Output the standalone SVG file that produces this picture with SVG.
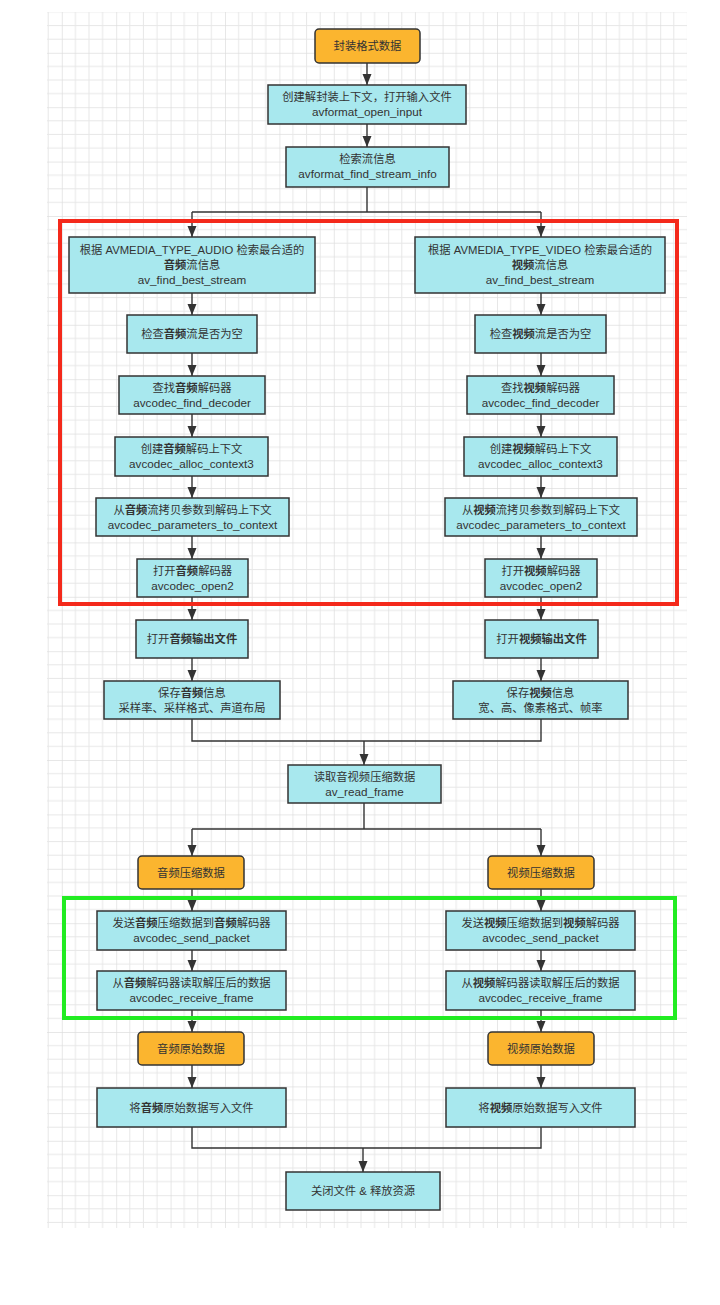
<svg xmlns="http://www.w3.org/2000/svg" width="720" height="1305" viewBox="0 0 720 1305">
<style>
.bg{fill:#ffffff}
.n{fill:#a8e8ee;stroke:#333333;stroke-width:1.5}
.o{fill:#fbb52f;stroke:#333333;stroke-width:1.5}
.t{font-family:"Liberation Sans","Noto Sans CJK SC",sans-serif;font-size:11.3px;fill:#333333;text-anchor:middle}
.f{font-size:11.7px}
.b{font-weight:bold}
.c{fill:none;stroke:#333333;stroke-width:1.4}
.red{fill:none;stroke:#f4291b;stroke-width:4}
.grn{fill:none;stroke:#22ec22;stroke-width:4}
</style>
<defs>
<pattern id="grid" patternUnits="userSpaceOnUse" x="7.4" y="-1.6" width="54.4" height="54.4">
<path d="M0 0V54.4M13.6 0V54.4M27.2 0V54.4M40.8 0V54.4M0 0H54.4M0 13.6H54.4M0 27.2H54.4M0 40.8H54.4" fill="none" stroke="#e7e7e7" stroke-width="1"/>
<path d="M0 0V54.4M0 0H54.4" fill="none" stroke="#dadada" stroke-width="1"/>
</pattern>
<marker id="ar" markerUnits="userSpaceOnUse" markerWidth="11" markerHeight="10" refX="11" refY="4.5" orient="auto">
<path d="M0,0 L11,4.5 L0,9 z" fill="#333333"/>
</marker>
</defs>
<rect class="bg" x="0" y="0" width="720" height="1305"/>
<rect x="47" y="12" width="640" height="1216" fill="url(#grid)"/>

<g id="connectors">
<path class="c" d="M367 63V85" marker-end="url(#ar)"/>
<path class="c" d="M367 124V147" marker-end="url(#ar)"/>
<path class="c" d="M367 187V212"/>
<path class="c" d="M192 212H541"/>
<path class="c" d="M192 212V237" marker-end="url(#ar)"/>
<path class="c" d="M541 212V237" marker-end="url(#ar)"/>
<path class="c" d="M192 293V315" marker-end="url(#ar)"/>
<path class="c" d="M192 353V376" marker-end="url(#ar)"/>
<path class="c" d="M192 414V437" marker-end="url(#ar)"/>
<path class="c" d="M192 476V498" marker-end="url(#ar)"/>
<path class="c" d="M192 536V559" marker-end="url(#ar)"/>
<path class="c" d="M192 597V620" marker-end="url(#ar)"/>
<path class="c" d="M192 658V681" marker-end="url(#ar)"/>
<path class="c" d="M541 293V315" marker-end="url(#ar)"/>
<path class="c" d="M541 353V376" marker-end="url(#ar)"/>
<path class="c" d="M541 414V437" marker-end="url(#ar)"/>
<path class="c" d="M541 476V498" marker-end="url(#ar)"/>
<path class="c" d="M541 536V559" marker-end="url(#ar)"/>
<path class="c" d="M541 597V620" marker-end="url(#ar)"/>
<path class="c" d="M541 658V681" marker-end="url(#ar)"/>
<path class="c" d="M192 719V741H541V719"/>
<path class="c" d="M364 741V765" marker-end="url(#ar)"/>
<path class="c" d="M364 803V829"/>
<path class="c" d="M192 829H541"/>
<path class="c" d="M192 829V856" marker-end="url(#ar)"/>
<path class="c" d="M541 829V856" marker-end="url(#ar)"/>
<path class="c" d="M192 889V911" marker-end="url(#ar)"/>
<path class="c" d="M192 950V971" marker-end="url(#ar)"/>
<path class="c" d="M192 1010V1032" marker-end="url(#ar)"/>
<path class="c" d="M192 1065V1088" marker-end="url(#ar)"/>
<path class="c" d="M541 889V911" marker-end="url(#ar)"/>
<path class="c" d="M541 950V971" marker-end="url(#ar)"/>
<path class="c" d="M541 1010V1032" marker-end="url(#ar)"/>
<path class="c" d="M541 1065V1088" marker-end="url(#ar)"/>
<path class="c" d="M192 1127V1148H541V1127"/>
<path class="c" d="M363 1148V1172" marker-end="url(#ar)"/>
</g>

<g id="highlights">
<rect class="red" x="60" y="221" width="617" height="383"/>
<rect class="grn" x="64" y="898" width="611" height="120"/>
</g>

<g id="n-start"><rect class="o" x="315" y="29" width="105" height="34" rx="4"/><text class="t" x="367.5" y="50">封装格式数据</text></g>
<g id="n-open"><rect class="n" x="268" y="85" width="198" height="39"/><text class="t" x="367" y="101">创建解封装上下文，打开输入文件</text><text class="t f" x="367" y="116">avformat_open_input</text></g>
<g id="n-info"><rect class="n" x="286" y="147" width="163" height="40"/><text class="t" x="367.5" y="163">检索流信息</text><text class="t f" x="367.5" y="178">avformat_find_stream_info</text></g>

<g id="l-best"><rect class="n" x="69" y="237" width="246" height="56"/><text class="t" x="192" y="254">根据 AVMEDIA_TYPE_AUDIO 检索最合适的</text><text class="t" x="192" y="268.5"><tspan class="b">音频</tspan>流信息</text><text class="t f" x="192" y="284">av_find_best_stream</text></g>
<g id="l-check"><rect class="n" x="127" y="315" width="130" height="38"/><text class="t" x="192" y="338">检查<tspan class="b">音频</tspan>流是否为空</text></g>
<g id="l-find"><rect class="n" x="119" y="376" width="146" height="38"/><text class="t" x="192" y="391.5">查找<tspan class="b">音频</tspan>解码器</text><text class="t f" x="192" y="406.5">avcodec_find_decoder</text></g>
<g id="l-alloc"><rect class="n" x="115" y="437" width="153" height="39"/><text class="t" x="191.5" y="453">创建<tspan class="b">音频</tspan>解码上下文</text><text class="t f" x="191.5" y="468">avcodec_alloc_context3</text></g>
<g id="l-param"><rect class="n" x="96" y="498" width="193" height="38"/><text class="t" x="192.5" y="513.5">从<tspan class="b">音频</tspan>流拷贝参数到解码上下文</text><text class="t f" x="192.5" y="528.5">avcodec_parameters_to_context</text></g>
<g id="l-open2"><rect class="n" x="137" y="559" width="111" height="38"/><text class="t" x="192.5" y="574.5">打开<tspan class="b">音频</tspan>解码器</text><text class="t f" x="192.5" y="589.5">avcodec_open2</text></g>
<g id="l-out"><rect class="n" x="136" y="620" width="112" height="38"/><text class="t" x="192" y="643">打开<tspan class="b">音频输出文件</tspan></text></g>
<g id="l-save"><rect class="n" x="104" y="681" width="176" height="38"/><text class="t" x="192" y="696.5">保存<tspan class="b">音频</tspan>信息</text><text class="t" x="192" y="711.5">采样率、采样格式、声道布局</text></g>

<g id="r-best"><rect class="n" x="415" y="237" width="250" height="56"/><text class="t" x="540" y="254">根据 AVMEDIA_TYPE_VIDEO 检索最合适的</text><text class="t" x="540" y="268.5"><tspan class="b">视频</tspan>流信息</text><text class="t f" x="540" y="284">av_find_best_stream</text></g>
<g id="r-check"><rect class="n" x="475" y="315" width="131" height="38"/><text class="t" x="540.5" y="338">检查<tspan class="b">视频</tspan>流是否为空</text></g>
<g id="r-find"><rect class="n" x="467" y="376" width="147" height="38"/><text class="t" x="540.5" y="391.5">查找<tspan class="b">视频</tspan>解码器</text><text class="t f" x="540.5" y="406.5">avcodec_find_decoder</text></g>
<g id="r-alloc"><rect class="n" x="464" y="437" width="153" height="39"/><text class="t" x="540.5" y="453">创建<tspan class="b">视频</tspan>解码上下文</text><text class="t f" x="540.5" y="468">avcodec_alloc_context3</text></g>
<g id="r-param"><rect class="n" x="445" y="498" width="192" height="38"/><text class="t" x="541" y="513.5">从<tspan class="b">视频</tspan>流拷贝参数到解码上下文</text><text class="t f" x="541" y="528.5">avcodec_parameters_to_context</text></g>
<g id="r-open2"><rect class="n" x="485" y="559" width="112" height="38"/><text class="t" x="541" y="574.5">打开<tspan class="b">视频</tspan>解码器</text><text class="t f" x="541" y="589.5">avcodec_open2</text></g>
<g id="r-out"><rect class="n" x="485" y="620" width="113" height="38"/><text class="t" x="541.5" y="643">打开<tspan class="b">视频输出文件</tspan></text></g>
<g id="r-save"><rect class="n" x="453" y="681" width="175" height="38"/><text class="t" x="540.5" y="696.5">保存<tspan class="b">视频</tspan>信息</text><text class="t" x="540.5" y="711.5">宽、高、像素格式、帧率</text></g>

<g id="n-read"><rect class="n" x="288" y="765" width="153" height="38"/><text class="t" x="364.5" y="780.5">读取音视频压缩数据</text><text class="t f" x="364.5" y="795.5">av_read_frame</text></g>

<g id="l-pkt"><rect class="o" x="138" y="856" width="106" height="33" rx="4"/><text class="t" x="191" y="876.5">音频压缩数据</text></g>
<g id="l-send"><rect class="n" x="97" y="911" width="189" height="39"/><text class="t" x="191.5" y="927">发送<tspan class="b">音频</tspan>压缩数据到<tspan class="b">音频</tspan>解码器</text><text class="t f" x="191.5" y="942">avcodec_send_packet</text></g>
<g id="l-recv"><rect class="n" x="97" y="971" width="189" height="39"/><text class="t" x="191.5" y="987">从<tspan class="b">音频</tspan>解码器读取解压后的数据</text><text class="t f" x="191.5" y="1002">avcodec_receive_frame</text></g>
<g id="l-raw"><rect class="o" x="138" y="1032" width="106" height="33" rx="4"/><text class="t" x="191" y="1052.5">音频原始数据</text></g>
<g id="l-write"><rect class="n" x="97" y="1088" width="189" height="39"/><text class="t" x="191.5" y="1111.5">将<tspan class="b">音频</tspan>原始数据写入文件</text></g>

<g id="r-pkt"><rect class="o" x="488" y="856" width="106" height="33" rx="4"/><text class="t" x="541" y="876.5">视频压缩数据</text></g>
<g id="r-send"><rect class="n" x="446" y="911" width="189" height="39"/><text class="t" x="540.5" y="927">发送<tspan class="b">视频</tspan>压缩数据到<tspan class="b">视频</tspan>解码器</text><text class="t f" x="540.5" y="942">avcodec_send_packet</text></g>
<g id="r-recv"><rect class="n" x="446" y="971" width="189" height="39"/><text class="t" x="540.5" y="987">从<tspan class="b">视频</tspan>解码器读取解压后的数据</text><text class="t f" x="540.5" y="1002">avcodec_receive_frame</text></g>
<g id="r-raw"><rect class="o" x="488" y="1032" width="106" height="33" rx="4"/><text class="t" x="541" y="1052.5">视频原始数据</text></g>
<g id="r-write"><rect class="n" x="446" y="1088" width="189" height="39"/><text class="t" x="540.5" y="1111.5">将<tspan class="b">视频</tspan>原始数据写入文件</text></g>

<g id="n-end"><rect class="n" x="286" y="1172" width="154" height="38"/><text class="t" x="363" y="1195">关闭文件 &amp; 释放资源</text></g>
</svg>
